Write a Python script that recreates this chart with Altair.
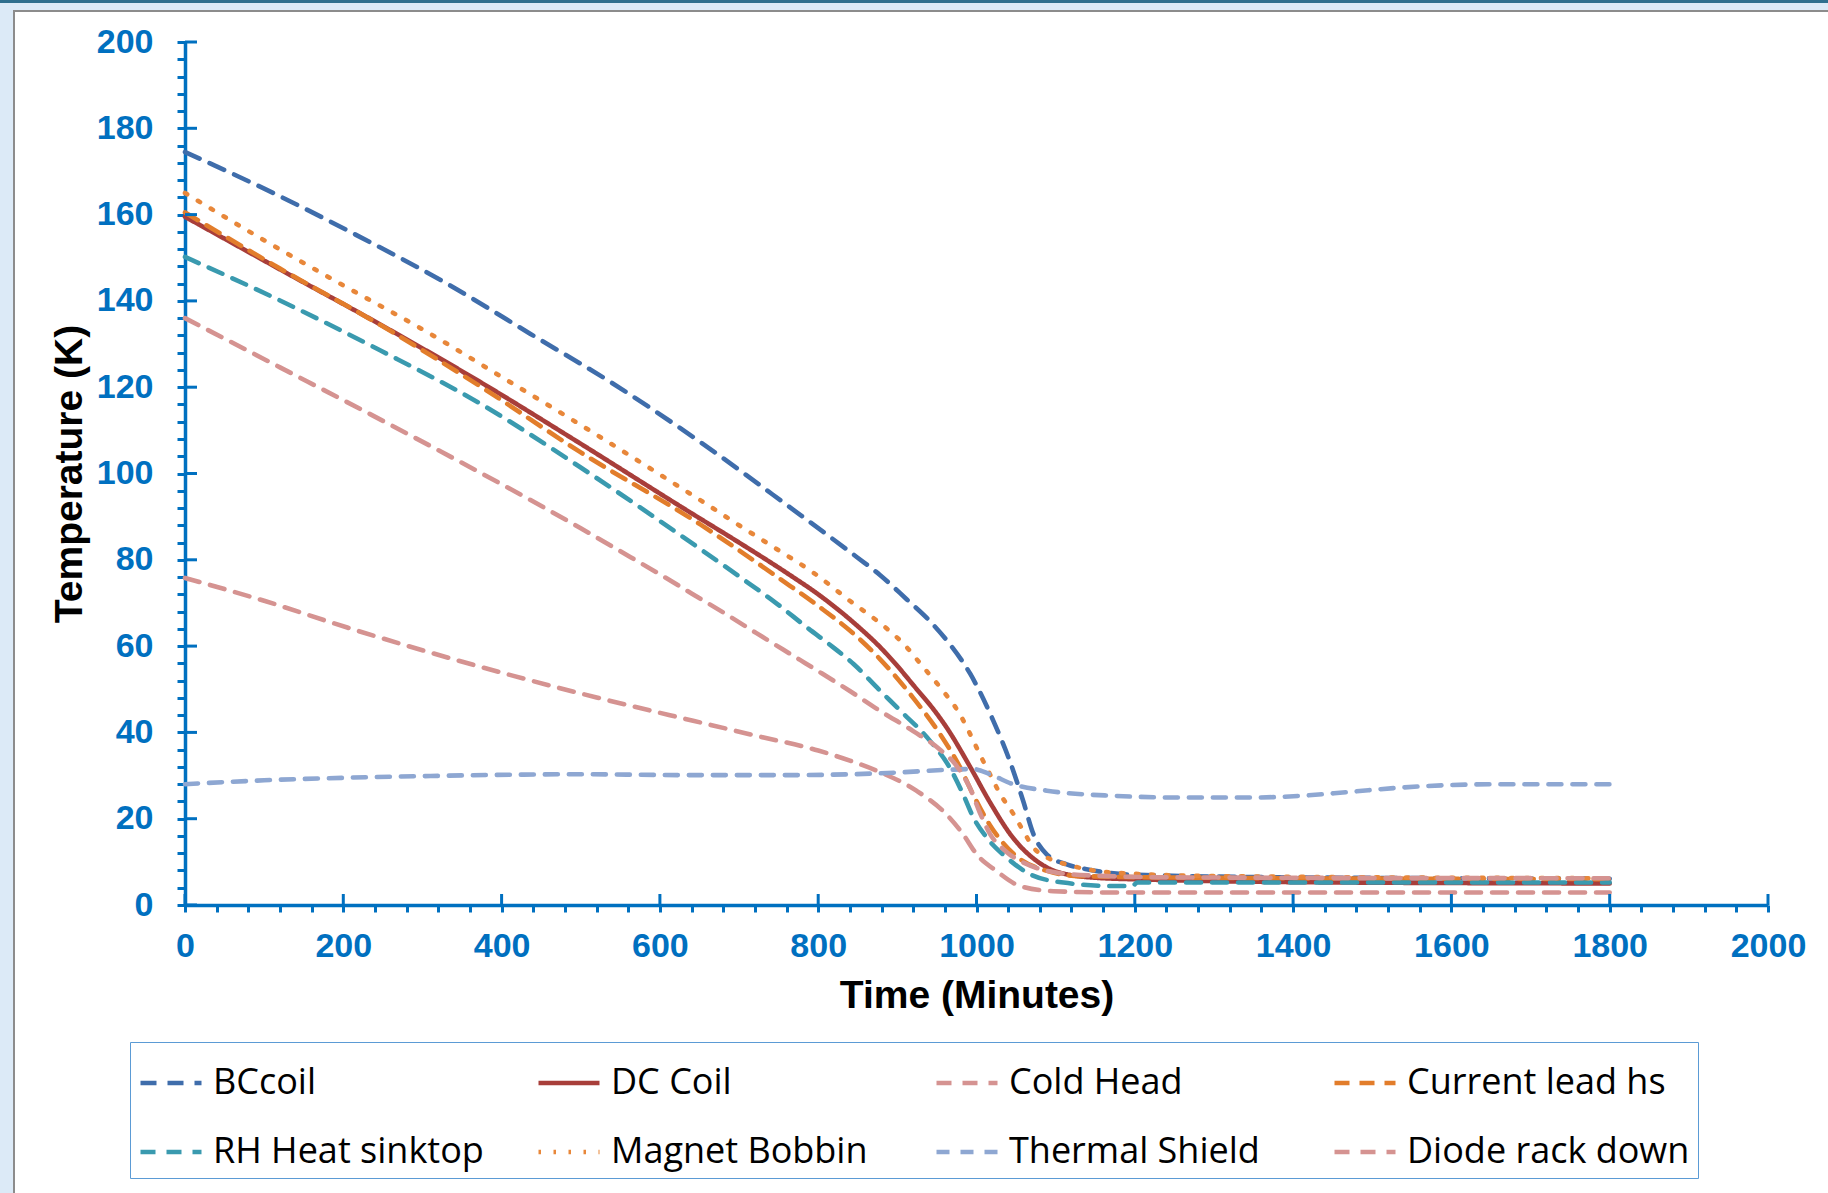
import altair as alt
import pandas as pd

# ---------------- data ----------------
series = ["BCcoil", "DC Coil", "Cold Head", "Current lead hs",
          "RH Heat sinktop", "Magnet Bobbin", "Thermal Shield", "Diode rack down"]

bc_t = [0, 116, 213, 331, 436, 541, 651, 764, 849, 878, 912, 941, 966, 992, 1021,
        1042, 1059, 1072, 1089, 1114, 1139, 1200, 1400, 1800]
bc_v = [174.5, 164.6, 155.6, 144.0, 132.4, 120.8, 107.3, 92.2, 80.6, 76.5, 70.8, 65.8,
        60.5, 53.6, 42.8, 33.4, 24.1, 16.4, 11.7, 9.4, 8.3, 7.0, 6.4, 6.1]

dc_t = [0, 120, 247, 373, 499, 638, 700, 764, 800, 850, 878, 900, 920, 950, 962, 992,
        1017, 1046, 1076, 1105, 1152, 1215, 1400, 1800]
dc_v = [159.5, 147.3, 134.5, 121.2, 107.0, 91.0, 84.0, 76.5, 72.0, 64.6, 59.8, 55.4,
        51.0, 44.3, 41.2, 32.0, 23.8, 15.6, 10.2, 7.5, 6.3, 5.9, 5.3, 5.0]

ch_t = [0, 100, 205, 310, 415, 520, 642, 720, 800, 841, 878, 924, 962, 983, 1000, 1025,
        1055, 1097, 1173, 1800]
ch_v = [75.8, 70.5, 64.3, 58.5, 53.1, 48.1, 42.7, 39.3, 35.8, 33.4, 30.8, 26.5, 21.0, 16.4,
        11.8, 7.9, 4.4, 3.2, 2.9, 2.9]

cl_t = [0, 120, 247, 373, 499, 651, 700, 750, 800, 850, 878, 900, 920, 954, 979, 996,
        1017, 1046, 1089, 1131, 1300, 1800]
cl_v = [160.5, 147.5, 134.4, 120.2, 105.0, 88.2, 82.2, 75.8, 69.3, 62.0, 57.0, 52.5,
        48.0, 39.6, 32.0, 25.5, 18.5, 12.0, 7.9, 6.7, 6.3, 6.0]

rh_t = [0, 120, 247, 373, 499, 651, 702, 748, 786, 819, 845, 878, 904, 941, 966, 983, 996,
        1013, 1038, 1068, 1110, 1173, 1197, 1203, 1800]
rh_v = [150.2, 140.1, 128.5, 116.2, 101.5, 82.5, 75.9, 69.8, 64.3, 59.7, 55.8, 49.7, 45.0,
        38.1, 31.9, 25.7, 20.3, 15.6, 11.0, 7.1, 5.2, 4.4, 4.4, 5.2, 5.2]

mb_t = [0, 93, 196, 302, 407, 518, 622, 653, 700, 750, 794, 840, 887, 908, 931, 956, 979,
        992, 1004, 1017, 1030, 1047, 1059, 1072, 1089, 1114, 1152, 1215, 1300, 1800]
mb_v = [165.0, 154.8, 144.0, 133.2, 121.6, 109.2, 97.2, 93.6, 88.0, 82.2, 77.0, 70.5, 64.0,
        60.5, 55.5, 50.0, 44.2, 39.6, 35.0, 30.3, 25.7, 21.0, 17.2, 13.3, 11.0, 9.4, 7.9,
        7.1, 6.7, 6.2]

ts_t = [0, 100, 205, 310, 415, 500, 640, 760, 841, 900, 960, 996, 1017, 1046, 1089, 1173,
        1261, 1345, 1410, 1471, 1535, 1661, 1800]
ts_v = [28.0, 28.9, 29.5, 29.9, 30.2, 30.3, 30.1, 30.1, 30.3, 30.7, 31.3, 31.5, 30.3, 28.0,
        26.5, 25.3, 24.9, 24.9, 25.3, 26.2, 27.2, 28.0, 28.0]

dr_t = [0, 120, 250, 375, 436, 500, 563, 604, 640, 680, 722, 777, 800, 840, 878, 920, 954,
        975, 992, 1004, 1017, 1038, 1067, 1101, 1150, 1250, 1800]
dr_v = [136.0, 124.6, 112.2, 100.0, 93.9, 87.3, 80.6, 76.2, 72.2, 67.8, 63.0, 56.8, 54.2,
        49.6, 45.0, 40.3, 36.0, 32.2, 27.0, 21.5, 16.5, 12.3, 9.2, 7.5, 6.8, 6.4, 6.2]

x_major = list(range(0, 2001, 200))
x_minor = list(range(0, 2001, 40))
y_major = list(range(0, 201, 20))
y_minor = list(range(0, 201, 4))

# ---------------- styles ----------------
colors = ["#3F6DAB", "#A83E3A", "#D59391", "#E27D2B",
          "#3A9AAF", "#E8873A", "#8EA7D2", "#D59391"]
dashes = [[16, 11], [1, 0], [15, 11], [15, 10],
          [15, 11], [2.5, 12.5], [13, 11], [15, 11]]

table = {"BCcoil": (bc_t, bc_v), "DC Coil": (dc_t, dc_v), "Cold Head": (ch_t, ch_v),
         "Current lead hs": (cl_t, cl_v), "RH Heat sinktop": (rh_t, rh_v),
         "Magnet Bobbin": (mb_t, mb_v), "Thermal Shield": (ts_t, ts_v),
         "Diode rack down": (dr_t, dr_v)}
rows = []
for name in series:
    ts, vs = table[name]
    for t, v in zip(ts, vs):
        rows.append({"series": name, "time": t, "temp": v})
df = pd.DataFrame(rows)

W, H = 1583, 863
BLUE = "#0070C0"
AX_FONT = "Liberation Sans"

xscale = alt.Scale(domain=[0, 2000], nice=False, zero=False)
yscale = alt.Scale(domain=[0, 200], nice=False, zero=False)

xaxis = alt.Axis(title="Time (Minutes)", values=x_minor, format="d",
                 labelExpr="datum.value % 200 === 0 ? datum.label : ''",
                 labelFlush=False, labelOverlap=False, labelBound=False,
                 labelFont=AX_FONT, labelFontWeight="bold", labelFontSize=34,
                 labelColor=BLUE, labelPadding=17,
                 tickSize=7, tickWidth=3, tickColor=BLUE,
                 domainColor=BLUE, domainWidth=3.5, grid=False,
                 titleFont=AX_FONT, titleFontWeight="bold", titleFontSize=39,
                 titleColor="black", titleBaseline="alphabetic", titleY=102)

yaxis = alt.Axis(title="Temperature (K)", values=y_minor, format="d",
                 labelExpr="datum.value % 20 === 0 ? datum.label : ''",
                 labelFlush=False, labelOverlap=False, labelBound=False,
                 labelFont=AX_FONT, labelFontWeight="bold", labelFontSize=34,
                 labelColor=BLUE, labelPadding=24,
                 tickSize=8, tickWidth=3, tickColor=BLUE,
                 domainColor=BLUE, domainWidth=3.5, grid=False,
                 titleFont=AX_FONT, titleFontWeight="bold", titleFontSize=39,
                 titleColor="black", titleBaseline="alphabetic", titleAngle=270,
                 titleX=-104, titleY=H / 2)

legend = alt.Legend(title=None, orient="none", legendX=-55, legendY=1000, columns=4,
                    direction="horizontal",
                    symbolType="stroke", symbolSize=3721, symbolStrokeWidth=4.5,
                    labelFont="Open Sans", labelFontSize=36, labelColor="black",
                    labelLimit=600, labelOffset=9, padding=8, rowPadding=18,
                    columnPadding=33, gridAlign="all",
                    strokeColor="#5B9BD5", fillColor="white")

lines = alt.Chart(df).mark_line(strokeWidth=4.6, strokeCap="round",
                                interpolate="monotone").encode(
    x=alt.X("time:Q", scale=xscale, axis=xaxis),
    y=alt.Y("temp:Q", scale=yscale, axis=yaxis),
    color=alt.Color("series:N", scale=alt.Scale(domain=series, range=colors),
                    legend=legend),
    strokeDash=alt.StrokeDash("series:N", scale=alt.Scale(domain=series, range=dashes),
                              legend=legend),
)

# inward half of the major ticks (Excel "cross" ticks)
y_in = alt.Chart(pd.DataFrame({"temp": y_major})).mark_rule(color=BLUE, strokeWidth=3).encode(
    y=alt.Y("temp:Q", scale=yscale, axis=yaxis), x=alt.value(0), x2=alt.value(12))
x_in = alt.Chart(pd.DataFrame({"time": x_major})).mark_rule(color=BLUE, strokeWidth=3).encode(
    x=alt.X("time:Q", scale=xscale, axis=xaxis), y=alt.value(H), y2=alt.value(H - 11))

# page frame (slide background strip and panel border)
one = pd.DataFrame({"k": [0]})
left_strip = alt.Chart(one).mark_rect(color="#DCEAF7").encode(
    x=alt.value(-185), x2=alt.value(-172), y=alt.value(-42), y2=alt.value(1151))
top_strip = alt.Chart(one).mark_rect(color="#DCEAF7").encode(
    x=alt.value(-185), x2=alt.value(1643), y=alt.value(-42), y2=alt.value(-32))
top_line = alt.Chart(one).mark_rect(color="#2F6F8E").encode(
    x=alt.value(-185), x2=alt.value(1643), y=alt.value(-42), y2=alt.value(-39))
border_left = alt.Chart(one).mark_rect(color="#8C8C8C").encode(
    x=alt.value(-172), x2=alt.value(-170), y=alt.value(-32), y2=alt.value(1151))
border_top = alt.Chart(one).mark_rect(color="#8C8C8C").encode(
    x=alt.value(-172), x2=alt.value(1643), y=alt.value(-32), y2=alt.value(-30))

chart = alt.layer(left_strip, top_strip, top_line, border_left, border_top,
                  lines, y_in, x_in).properties(
    width=W, height=H,
    autosize=alt.AutoSizeParams(type="none"),
    padding={"left": 185, "top": 42, "right": 60, "bottom": 288},
    background="white",
).configure_view(strokeWidth=0)

chart.save("out.html", embed_options={"renderer": "svg", "actions": False})
